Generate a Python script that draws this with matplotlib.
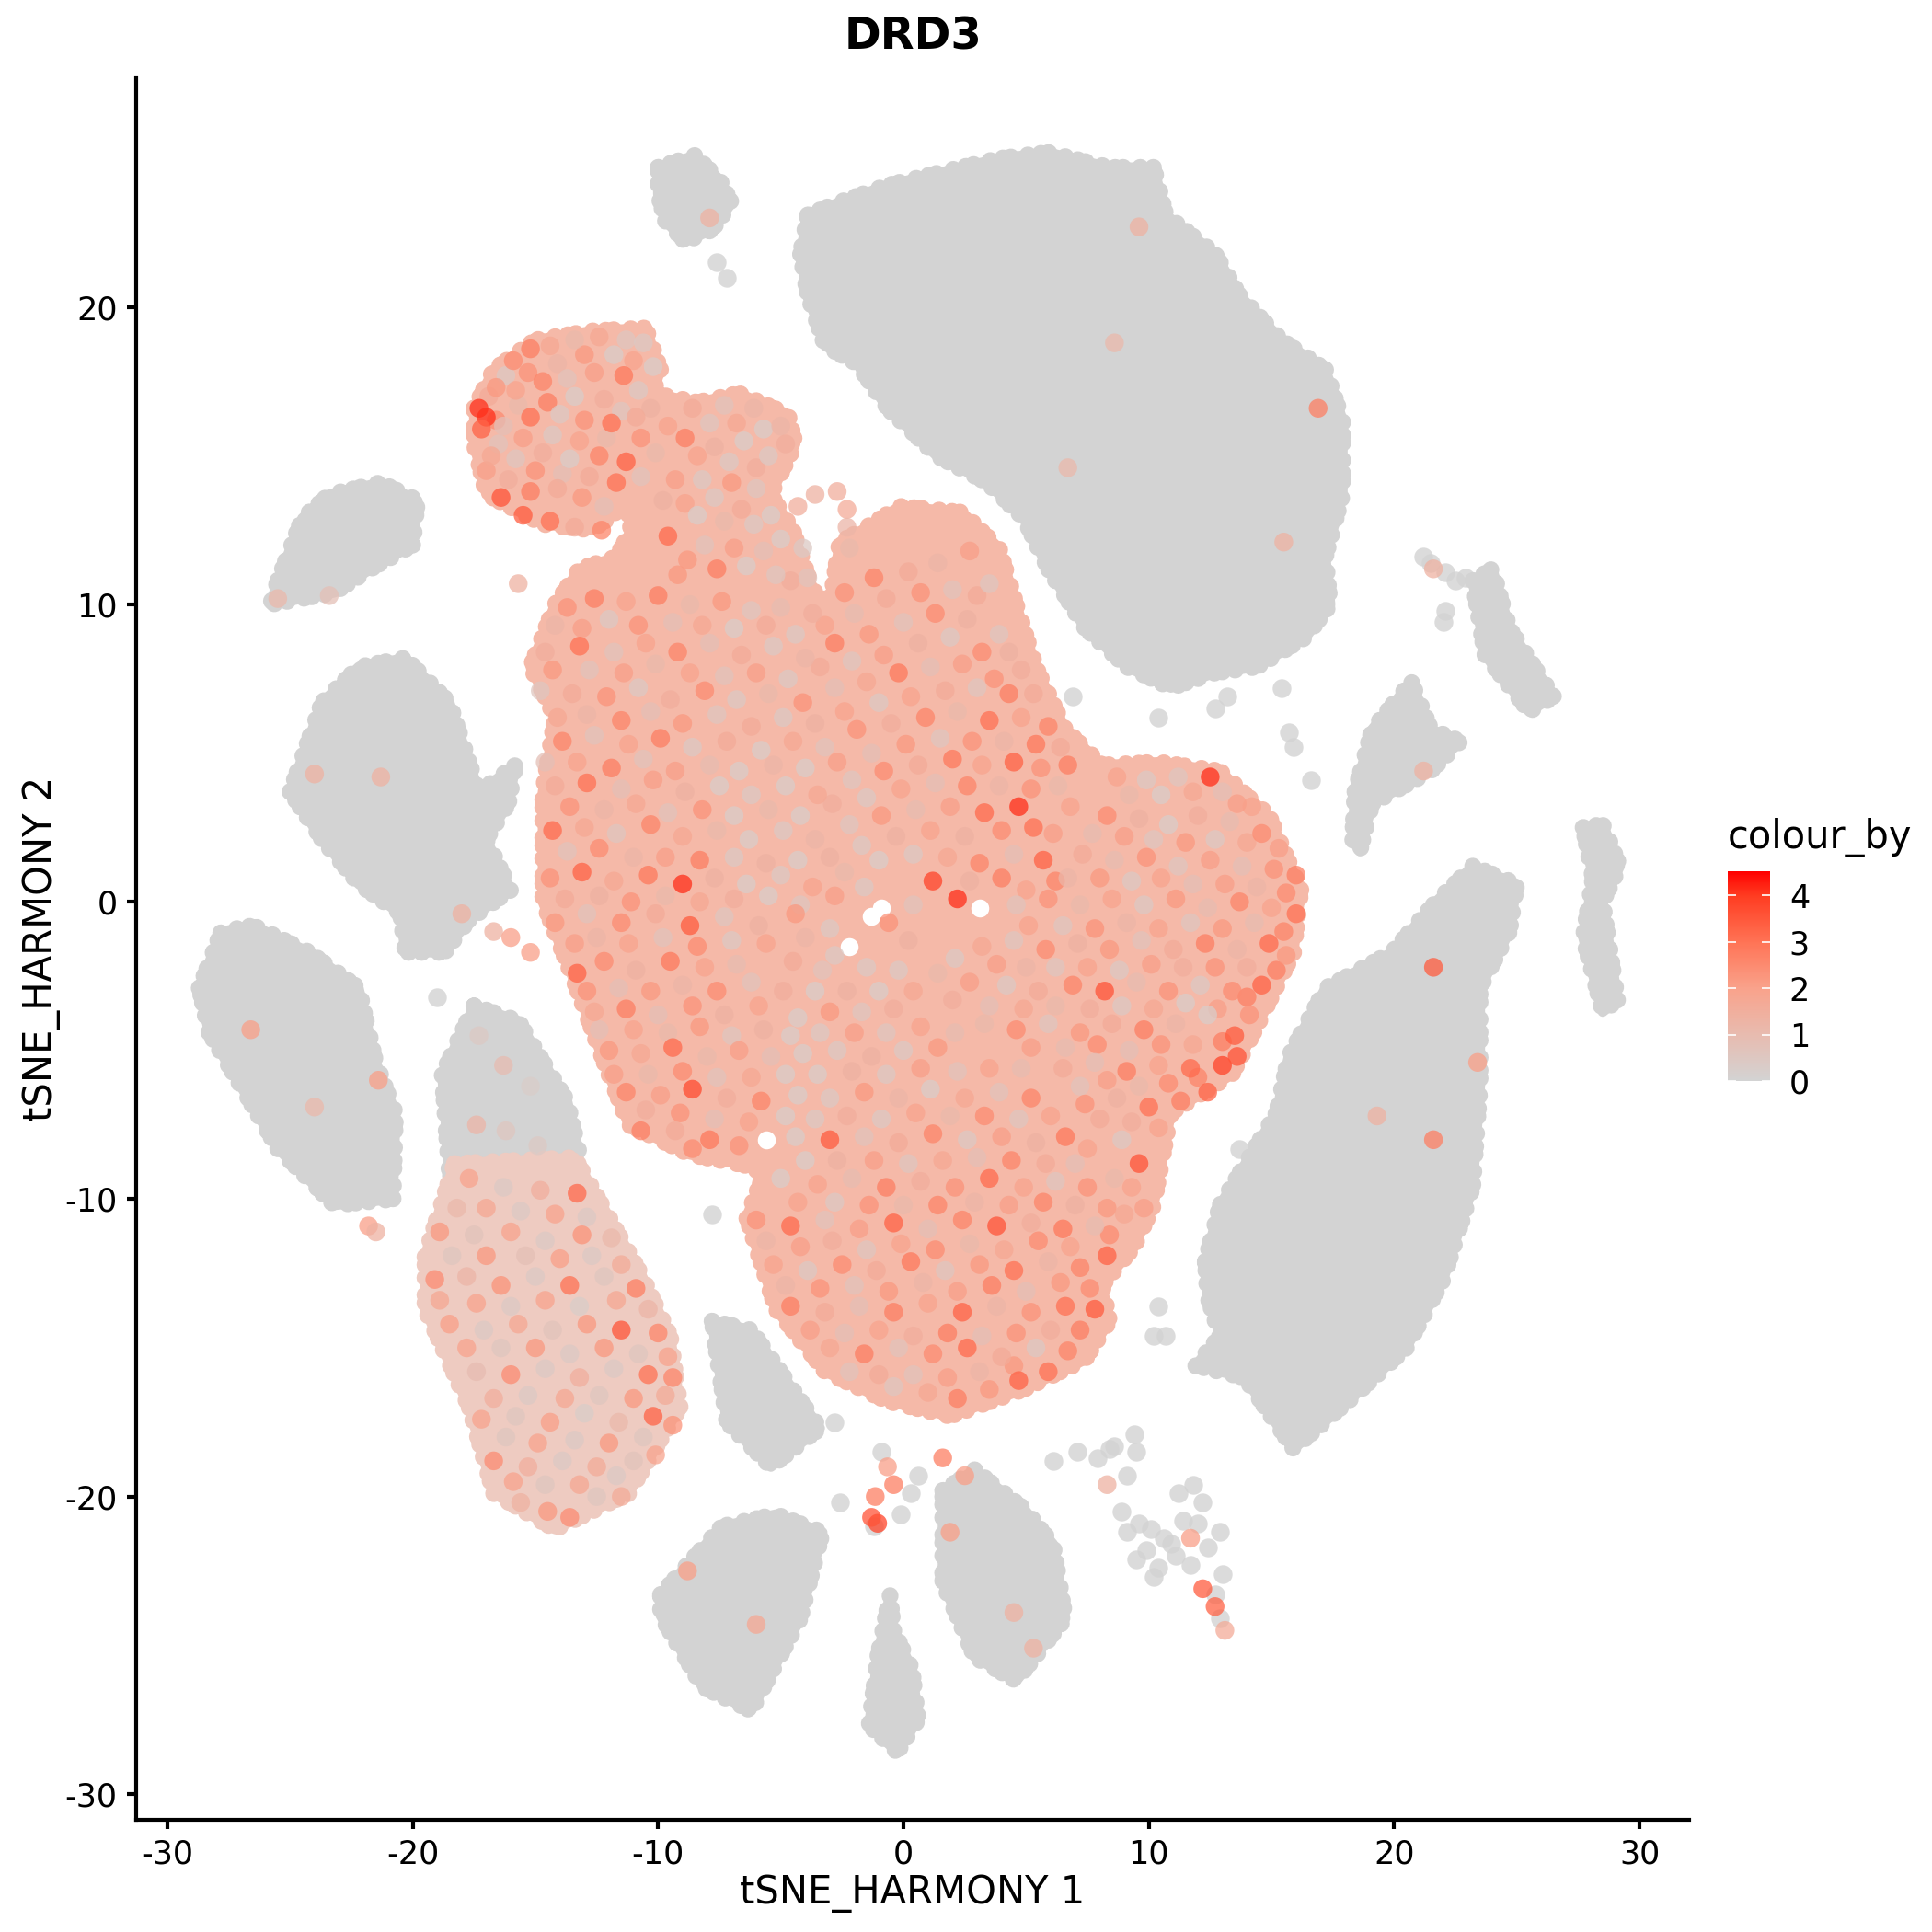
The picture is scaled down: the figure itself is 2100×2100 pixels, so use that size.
import matplotlib
matplotlib.use("Agg")
import matplotlib.pyplot as plt
from matplotlib.cm import ScalarMappable
from matplotlib.colors import LinearSegmentedColormap, Normalize

plt.rcParams["axes.unicode_minus"] = False

# cluster outlines, in tSNE units
grey_outlines = [
    [(-3.9,23.1),(-2.7,23.5),(-0.65,24.1),(1.35,24.5),(3.9,25),(5.9,25.2),(8.4,24.7),(10.2,24.7),(10.7,23.1),(12.7,21.8),(13.7,20.4),(15.4,18.9),(17.2,17.9),(17.9,16.2),(17.9,13.7),(17.2,11.6),(17.4,10),(16.4,8.9),(14.4,7.9),(12.7,7.7),(10.9,7.2),(9.1,7.9),(7.4,9.2),(5.9,11.2),(4.9,12.9),(3.4,14.1),(1.35,15),(-0.65,16.6),(-1.9,18.1),(-3.2,18.7),(-3.9,20.4),(-4.2,21.8)],
    [(-10,24.7),(-8.5,25.1),(-7.5,24.3),(-7,23.5),(-7.8,22.6),(-8.9,22.2),(-9.7,22.9),(-10,23.8)],
    [(-25.5,10.8),(-24.5,12.9),(-23.4,13.7),(-21.3,14.1),(-19.8,13.5),(-20,12),(-21.7,11.2),(-23.2,10.4),(-25.8,10)],
    [(-25,3.7),(-23.7,6.7),(-22.2,7.9),(-20.3,8.2),(-18.5,6.7),(-17.3,3.7),(-15.8,4.6),(-16.1,3.3),(-17,2.1),(-16,0.4),(-17.7,-0.6),(-18.7,-1.7),(-20.3,-1.7),(-20.5,-0.4),(-22.2,0.6),(-23.7,2.1)],
    [(-28.7,-2.9),(-27.8,-1),(-26.5,-0.8),(-24.2,-1.7),(-22.2,-2.9),(-21.5,-5.4),(-20.7,-7.1),(-20.8,-10),(-23.2,-10.2),(-25.5,-8.3),(-27,-6.2),(-28.3,-4.4)],
    [(12.3,-12.1),(12.9,-10.2),(15.2,-7.1),(15.7,-5.2),(17.2,-2.9),(19.9,-1.7),(21.7,0),(23.2,1.2),(25,0.6),(24.7,-1),(23.5,-2.9),(23.5,-6.2),(23.2,-9.6),(22,-12.7),(20.5,-15),(18.4,-16.6),(15.9,-18.4),(13.9,-16),(11.9,-15.6),(12.9,-14.6),(12.4,-13.3)],
    [(18.4,3.7),(19.1,5.8),(20.7,7.4),(21.5,5.8),(22.7,5.4),(21.5,4.4),(19.1,3.3),(18.6,1.7),(18.3,2.1)],
    [(23.2,10.8),(24,11.2),(24.7,9.2),(26.5,6.9),(25.5,6.4),(23.7,8.3)],
    [(27.7,2.5),(28.5,2.6),(29.2,1.2),(28.5,0),(29.1,-3.3),(28.5,-3.7),(27.7,-1.2),(28.1,0.8)],
    [(-7.8,-14.1),(-6.2,-14.4),(-3.4,-17.7),(-5.4,-19),(-7.2,-17.5)],
    [(-9.9,-23.3),(-7.4,-21),(-5.2,-20.6),(-3.3,-21.2),(-4.2,-24.1),(-6.2,-27.2),(-8.2,-26.4),(-9.9,-24)],
    [(-0.4,-24.5),(0.35,-25.8),(0.6,-27.5),(-0.25,-28.6),(-1.4,-27.7),(-1.05,-25.4),(-0.55,-23.3)],
    [(1.6,-19.8),(2.9,-19.1),(4.9,-20.4),(6.1,-21.6),(6.6,-24.1),(4.6,-26.2),(2.9,-25.4),(1.6,-22.9)],
    [(-17.5,-3.5),(-15.7,-4),(-13.7,-6.7),(-13.2,-8.5),(-14,-10),(-18.5,-9.2),(-18.8,-5.8)],
]
main_outline = [(-17.5,16.6),(-16.7,17.9),(-15,18.9),(-12.7,19.2),(-10.5,19.3),(-9.9,17.9),(-10.2,17.1),(-8.4,16.8),(-6.7,17.1),(-4.7,16.4),(-4.4,15.4),(-5.4,13.7),(-4.5,12.5),(-3.9,11),(-3.4,10),(-2.9,10.5),(-2.6,12.1),(-1.7,12.5),(-0.15,13.3),(2.4,13.1),(3.9,11.9),(4.6,10),(5.4,7.9),(6.6,5.8),(8.1,4.6),(10.4,4.7),(12.9,4.4),(14.9,2.9),(16.2,0.4),(15.9,-1.7),(14.4,-4.2),(13.4,-5.8),(10.9,-7.1),(10.2,-10.2),(9.4,-11.6),(8.1,-12.9),(8.4,-14.1),(7.4,-15.4),(4.9,-16.4),(1.9,-17.3),(-0.65,-16.8),(-3.2,-15.8),(-5.2,-13.7),(-6.4,-10.6),(-5.7,-9.2),(-6.2,-8.9),(-8.7,-8.5),(-11.2,-7.5),(-12.2,-5.4),(-13.5,-2.5),(-14.7,0),(-14.7,3.7),(-14.2,6.2),(-15.2,7.9),(-14.2,10),(-13.2,11.2),(-11.7,11.6),(-11.1,12.5),(-11.3,13.4),(-12,12.9),(-12.7,12.5),(-14.7,12.7),(-17,13.7),(-17.5,15.4)]
low_left_outline = [(-18.3,-8.8),(-13.4,-8.6),(-12,-10.6),(-10.7,-12.5),(-9.5,-14.6),(-9.1,-17),(-11.2,-19.9),(-14.2,-21.1),(-16.7,-19.9),(-17.7,-17),(-19.5,-13.7),(-19.5,-11.9)]

# small holes in the main blob
gap_x = [-0.9,3.1,-2.2,-1.3,-5.6]
gap_y = [-0.2,-0.2,-1.5,-0.5,-8.0]

# loose grey cells around the clusters
stray_x = [6.1,7.1,7.9,8.6,9.4,9.5,9.1,8.9,9.1,9.9,10.2,10.9,11.4,11.8,12.2,12.9,11.7,12.7,12.9,-19,-7.8,-2.8,-2.6,10.4,6.9,15.4,15.7,16.6,15.9,13.2,12.7,13.7,10.4,10.2,10.7,-7.6,-7.2,22.1,22,21.2,22.5,-0.9,0.6,-0.1,-1.2,0.3,8.4,9.6,10.6,11.1,12,12.4,13,9.5,10.4,10.1,11.2,21.5,22.1,22.9,23.5]
stray_y = [-18.8,-18.5,-18.7,-18.3,-17.9,-18.5,-19.3,-20.5,-21.2,-21.8,-22.7,-21.6,-20.8,-19.6,-20.2,-21.2,-22.3,-23.3,-24.1,-3.2,-10.5,-17.5,-20.2,6.2,6.9,7.2,5.7,4.1,5.2,6.9,6.5,-8.3,-13.6,-14.6,-14.6,21.5,21,9.8,9.4,11.6,10.8,-18.5,-19.3,-20.6,-21,-19.9,-18.4,-20.9,-21.4,-22,-20.9,-21.7,-22.6,-22.1,-22.4,-21.1,-19.9,11.4,11.1,10.9,10.8]

# expressing cells as (x, y, value)
sparse_cells = [(16.9,16.6,2),(9.6,22.7,1),(8.6,18.8,0.8),(6.7,14.6,0.8),(15.5,12.1,1),(-26.6,-4.3,1.5),(-24,-6.9,0.8),(-21.4,-6,1.5),(-24,4.3,1),(-21.3,4.2,1),(-7.9,23,1),(-21.8,-10.9,1.5),(-21.5,-11.1,1),(21.6,-2.2,2.5),(21.6,-8,2),(19.3,-7.2,1),(23.4,-5.4,1.5),(21.6,11.2,1),(21.2,4.4,1),(-8.8,-22.5,1.5),(-6,-24.3,1.3),(4.5,-23.9,1),(5.3,-25.1,1),(1.9,-21.2,1.5),(1.6,-18.7,2),(2.5,-19.3,1.5),(-1.05,-20.9,2.8),(-1.3,-20.7,2.6),(-1.15,-20,2),(-0.4,-19.6,2),(-0.65,-19,1.5),(12.2,-23.1,2.5),(12.7,-23.7,2.4),(13.1,-24.5,1.2),(11.7,-21.4,1.5),(8.3,-19.6,1),(-18,-0.4,1),(-16.7,-1,1),(-16,-1.2,1.5),(-15.2,-1.7,1.5),(-15.7,10.7,1),(-25.5,10.2,0.8),(-23.4,10.3,0.6),(-4.3,13.3,1.1),(-3.6,13.7,1),(-2.7,13.8,1.1),(-2.3,13.2,1.2),(-2.3,12.6,0.9),(-2.2,11.9,0.8)]
lobe_cells = [(-17.3,16.6,3),(-17,16.3,3),(-17.2,15.9,2.4),(-16.6,17.3,1.6),(-15.9,18.2,1.8),(-15.2,18.6,2),(-14.4,18.7,1.3),(-13.4,18.9,0.8),(-12.4,19,1.3),(-11.3,18.9,0.4),(-10.6,18.8,0.3),(-10.2,18,0.2),(-15.8,17.2,1.4),(-14.7,17.5,1.9),(-13.7,17.6,0.5),(-12.6,17.8,1.5),(-11.4,17.7,2.1),(-10.8,17.2,0.3),(-16.3,16,0.6),(-15.2,16.3,2.2),(-14,16.4,0.3),(-13,16.2,1.7),(-11.9,16.1,2.2),(-10.9,16.3,1.2),(-9.6,16,1.4),(-16.8,15,1.3),(-15.8,14.9,0.4),(-14.7,15.1,1.1),(-13.6,14.9,0.2),(-12.4,15,1.9),(-11.3,14.8,2.4),(-10.1,15.1,0.8),(-16.4,13.6,2.6),(-15.2,13.8,2),(-14.1,13.9,1.2),(-13.1,13.6,1.6),(-12.2,13.3,0.6),(-15.5,13,2.5),(-14.4,12.8,2.2),(-13.4,12.6,1.2),(-12.3,12.5,1.9),(-8.6,16.6,1.2),(-7.3,16.7,0.5),(-6.1,16.6,0.9),(-5,16,0.9),(-4.8,15.4,1.1),(-8.9,15.6,2),(-7.7,15.3,1),(-6.5,15.5,0.2),(-5.5,15,0.3),(-8.2,14.2,0.3),(-7,14.1,1.6),(-6,13.9,0.4),(-9.3,14.2,1.5),(-8.4,13,0.2),(-7.3,12.8,0.8),(-6.1,12.7,0.3),(-5,12.2,0.2),(-4.1,11.9,0.3),(-9.6,12.3,2.3),(-8.8,11.5,1.6),(-7.6,11.2,2),(-6.4,11.3,0.2),(-5.2,11,0.4),(-3.9,10.9,0.5)]
lobe_extra = [(-16.9,17,1.2),(-16.2,17.7,0.3),(-15.3,17.8,1.7),(-14.1,18.1,0.9),(-13,18.4,1.6),(-11.8,18.4,0.2),(-11,18.2,1.4),(-16.6,16.2,1.8),(-15.7,16.7,0.8),(-14.5,16.8,2),(-13.4,17,0.2),(-12.2,16.9,1.1),(-11.5,16.5,0.4),(-10.3,16.6,1),(-16.5,15.4,0.5),(-15.5,15.6,1.5),(-14.3,15.7,0.3),(-13.2,15.5,1.4),(-12.1,15.6,0.8),(-10.7,15.6,1.7),(-17,14.5,1.5),(-16.1,14.2,1.1),(-15,14.5,1.7),(-13.9,14.4,0.6),(-12.8,14.3,1.2),(-11.7,14.1,2.2),(-10.7,14.3,0.5),(-9.8,13.5,1),(-7.9,16.1,0.4),(-6.8,16.1,1.3),(-5.7,15.9,0.2),(-8.4,15,1.4),(-7.1,14.8,0.3),(-6,14.6,1.1),(-8.9,13.4,1.4),(-7.7,13.6,0.3),(-6.6,13.2,1.2),(-5.4,13,0.2),(-9.2,11,1.6),(-8.1,12,0.5),(-6.9,11.9,1.5),(-5.7,11.8,0.6),(-4.6,10.8,1.1)]
upper_cells = [(-13.7,9.9,1.7),(-12.6,10.2,2),(-11.3,10.1,1.4),(-10,10.3,2),(-8.7,10,0.8),(-7.4,10.1,1.6),(-6.2,9.8,0.4),(-5,9.9,0.7),(-3.7,9.7,1.1),(-2.4,10.4,1.7),(-1.2,10.9,1.9),(0.2,11.1,1.2),(1.4,11.4,0.9),(2.7,11.8,1.5),(3.5,10.7,0.4),(-14.6,8.4,1.1),(-13.2,8.6,2.2),(-11.8,8.4,0.5),(-10.5,8.7,1.4),(-9.2,8.4,1.9),(-7.9,8.7,0.6),(-6.6,8.3,1.2),(-5.3,8.6,0.3),(-4,8.2,0.9),(-2.8,8.7,2),(-1.4,9,1.6),(0,9.4,0.5),(1.3,9.7,1.8),(2.6,9.5,1),(3.9,9,0.4),(-14.8,7.1,0.4),(-13.5,7,1.2),(-12.1,6.9,1.7),(-10.8,7.2,0.3),(-9.5,6.8,1.1),(-8.1,7.1,1.8),(-6.8,6.8,0.3),(-5.5,7,0.8),(-4.1,6.7,1.7),(-2.8,7.2,0.6),(-1.5,7.4,1.3),(-0.2,7.7,2.1),(1.1,7.9,0.6),(2.4,8,1.5),(3.7,7.5,1.7),(4.8,7.8,1.1),(-13.9,5.4,1.9),(-12.6,5.6,0.5),(-11.2,5.3,1.4),(-9.9,5.5,2),(-8.6,5.2,0.3),(-7.2,5.4,1.2),(-5.8,5.1,0.2),(-4.5,5.4,1.3),(-3.2,5.2,0.5),(-1.9,5.8,1.7),(-0.5,6,1.1),(0.9,6.2,1.9),(2.2,6.4,0.8),(3.5,6.1,2.2),(4.8,6.2,1.4),(5.9,5.9,1.9),(-14.2,3.9,1.2),(-12.9,4,2.2),(-11.5,3.8,0.6),(-10.2,4.1,1.5),(-8.9,3.7,1),(-7.5,3.9,0.2),(-6.2,3.6,0.3),(-4.8,3.9,0.2),(-3.5,3.6,1.3),(-2.1,4.1,0.4),(-0.8,4.4,1.8),(0.6,4.6,1.2),(2,4.8,2.1),(3.2,4.6,1.4),(4.5,4.7,2.4),(5.6,4.5,1.7),(6.7,4.6,2),(-14.3,2.4,2.3),(-13,2.5,1.3),(-11.7,2.3,0.4),(-10.3,2.6,1.9),(-9,2.2,1.3),(-7.6,2.4,0.8),(-6.3,2.1,0.2),(-4.9,2.4,0.3),(-3.6,2.1,0.9),(-2.2,2.6,0.4),(-0.9,2.9,1.6),(0.5,3.1,0.7),(1.9,3.2,1.5),(3.3,3,2.3),(4.7,3.2,3),(5.3,2.5,2.2),(6.8,3.2,1.4),(-14.4,0.8,1.7),(-13.1,1,2.4),(-11.8,0.7,1.3),(-10.4,0.9,2.1),(-9,0.6,3),(-7.7,0.8,1),(-6.4,0.6,0.2),(-5,0.9,0.3),(-3.7,0.5,1.4),(-2.4,1,0.8),(-1,1.4,0.2),(0.4,1.6,0.3),(1.8,1.5,1.3),(3.1,1.3,1.9),(4.5,1.6,0.6),(5.7,1.4,2.4),(-14.2,-0.7,1.6),(-12.9,-0.4,0.5),(-11.5,-0.7,1.8),(-10.1,-0.4,1.2),(-8.7,-0.8,2.5),(-7.3,-0.5,0.4),(-5.9,-0.8,1),(-4.4,-0.4,1.6),(-3,-0.9,0.3),(0.4,-0.1,0.5),(1.2,0.7,2.8),(2.2,0.1,3)]
upper_extra = [(-14.2,9.3,0.9),(-13.1,9.2,1.5),(-12,9.5,0.3),(-10.8,9.3,1.7),(-9.4,9.4,0.6),(-8.2,9.3,1.3),(-6.9,9.2,0.2),(-5.6,9.3,1.2),(-4.4,9,0.3),(-3.2,9.3,1.4),(-2,9.7,0.7),(-0.7,10.2,1.2),(0.7,10.4,1.7),(2,10.5,0.5),(3,10.3,1.2),(-14.3,7.8,1.6),(-12.8,7.8,0.5),(-11.4,7.7,1.5),(-10.1,8,0.8),(-8.7,7.7,1.4),(-7.3,7.6,0.5),(-6,7.7,1.5),(-4.7,7.5,0.3),(-3.4,7.9,1.2),(-2.1,8.1,0.4),(-0.8,8.3,1.5),(0.6,8.7,1),(1.9,8.9,0.3),(3.2,8.4,1.8),(4.3,8.4,1),(-14.1,6.2,1.3),(-12.9,6.3,0.9),(-11.5,6.1,1.9),(-10.3,6.4,0.6),(-9,6,1.6),(-7.6,6.3,0.4),(-6.2,5.9,1.2),(-4.9,6.2,0.3),(-3.6,6,1),(-2.4,6.4,1.4),(-1,6.7,0.3),(0.3,6.9,1.4),(1.7,7.1,1.2),(3,7.2,0.4),(4.3,7,2),(5.3,7,1.2),(-14.6,4.7,0.6),(-13.3,4.7,1.4),(-11.9,4.5,2),(-10.6,4.8,0.5),(-9.3,4.4,1.5),(-7.9,4.6,0.7),(-6.7,4.4,0.2),(-5.3,4.6,0.9),(-4,4.5,0.2),(-2.7,4.7,1.5),(-1.3,5,0.6),(0.1,5.3,1.6),(1.5,5.5,0.4),(2.8,5.4,1.7),(4.1,5.4,0.9),(5.4,5.3,2.1),(6.4,5.2,1.2),(-13.6,3.2,1.7),(-12.2,3.1,0.9),(-10.9,3.3,1.3),(-9.6,3,0.5),(-8.2,3.1,1.7),(-6.9,2.9,0.2),(-5.5,3.1,0.8),(-4.2,2.9,0.2),(-2.9,3.3,1.1),(-1.5,3.5,0.3),(-0.1,3.8,1.4),(1.3,4,0.6),(2.6,3.9,1.9),(3.9,3.9,0.9),(5.2,3.8,1.7),(6.3,3.9,0.8),(-13.7,1.7,0.5),(-12.4,1.8,1.8),(-11,1.5,0.9),(-9.7,1.5,1.5),(-8.3,1.4,2),(-6.9,1.5,0.3),(-5.6,1.3,1),(-4.3,1.4,0.2),(-3,1.5,1),(-1.7,1.9,0.3),(-0.3,2.2,1),(1.1,2.4,1.4),(2.5,2.2,1),(4,2.4,1.8),(6.1,2.3,1.5),(-13.8,0.1,1.2),(-12.4,0.2,1),(-11.1,0,1.7),(-9.7,0.2,0.8),(-8.3,0,1.3),(-6.9,0.1,1.1),(-5.5,0.2,0.2),(-4.2,-0.1,0.4),(-2.8,0.2,1.5),(-1.6,0.5,0.3),(2.7,0.7,1),(4,0.8,2),(5,0.4,1.4),(6.2,0.7,1.9)]
right_cells = [(8.7,4.2,1.4),(9.9,4.1,0.3),(11.2,4.2,0.4),(12.5,4.2,3),(13.6,3.3,1.5),(8.3,2.9,1.8),(9.6,2.8,1),(10.8,2.6,0.2),(12,2.9,1.1),(13.3,2.7,0.7),(14.6,2.3,1.8),(7.3,1.6,1.2),(8.6,1.4,0.7),(9.9,1.5,1.7),(11.2,1.2,0.4),(12.5,1.4,1.5),(13.8,1.2,0.6),(15.1,1.1,1.7),(16,0.9,2),(4.6,-0.1,0.5),(5.9,0.1,1.7),(7.2,-0.1,0.8),(8.5,0.1,1.4),(9.8,-0.1,0.3),(11.1,0.1,1.6),(12.4,-0.2,0.7),(13.7,0,1.9),(15,-0.2,1.4),(16,-0.4,2.2),(3.2,-1.5,1.3),(4.5,-1.3,0.4),(5.8,-1.6,1.8),(7.1,-1.4,1),(8.4,-1.6,1.6),(9.7,-1.3,0.5),(11,-1.6,1.2),(12.3,-1.4,2),(13.6,-1.6,0.9),(14.9,-1.4,2.3),(15.6,-1.8,1.6),(1.4,-2.4,0.8),(2.7,-2.7,1.5),(4.2,-2.8,0.3),(5.5,-3,1.2),(6.9,-2.8,1.9),(8.2,-3,2.6),(9.5,-2.7,0.7),(10.8,-3,1.7),(12.1,-2.8,0.3),(13.4,-3,1.8),(14.6,-2.8,2.4),(3.3,-4.1,0.8),(4.6,-4.3,1.8),(5.9,-4.1,0.4),(7.2,-4.4,1.6),(8.5,-4.1,1.2),(9.8,-4.3,2),(11.1,-4.1,0.9),(12.4,-3.8,0.2),(13.5,-4.5,2.5),(14.1,-3.8,1.7),(6.5,-5.6,1.2),(7.8,-5.4,0.6),(9.1,-5.7,2),(10.4,-5.5,1.4),(11.7,-5.6,2.3),(13,-5.5,2.8),(13.6,-5.2,2.6),(7.4,-6.8,1.7),(8.7,-6.6,1),(10,-6.9,2.2),(11.3,-6.7,2),(12.4,-6.4,2.4),(8.9,-8,0.3),(9.6,-8.8,2.6),(8.6,-9.3,0.8),(10.4,-7.6,1.4)]
right_extra = [(9.2,3.6,0.8),(10.5,3.6,0.2),(11.8,3.7,1.3),(13,3.7,0.6),(14.2,3.2,1.4),(7.7,2.3,0.7),(9,2.2,1.5),(10.2,2.1,0.4),(11.5,2,1.6),(12.7,2.1,0.3),(14,2,1.3),(15.3,1.8,1.5),(6.7,0.8,0.9),(8,0.8,1.6),(9.3,0.7,0.3),(10.5,0.8,1.4),(11.8,0.6,0.6),(13.1,0.6,1.5),(14.4,0.5,0.9),(15.6,0.3,1.8),(5.1,-0.8,1.4),(6.5,-0.8,0.4),(7.8,-0.9,1.7),(9.1,-0.7,0.9),(10.4,-0.9,1.4),(11.7,-0.7,0.4),(13,-0.9,1.6),(14.3,-0.7,0.7),(15.5,-1,1.9),(2.1,-1.9,0.3),(3.8,-2.1,1.5),(5,-2.2,0.9),(6.2,-2.2,0.4),(7.5,-2.2,1.4),(8.8,-2.3,0.3),(10.1,-2.1,1.5),(11.4,-2.2,1.1),(12.7,-2.2,1.7),(14,-2.2,1.1),(15.2,-2.3,2),(2,-3.3,1.1),(3.5,-3.5,0.6),(4.9,-3.6,1.3),(6.2,-3.5,0.8),(7.6,-3.6,1.1),(8.9,-3.5,0.3),(10.2,-3.6,1.3),(11.5,-3.4,0.2),(12.8,-3.6,1.5),(14,-3.2,2),(5.2,-4.9,1.5),(6.6,-4.9,0.7),(7.9,-4.8,1.8),(9.2,-5,0.6),(10.5,-4.8,1.7),(11.8,-4.8,1.3),(13,-4.7,2),(7.2,-6.2,0.5),(8.3,-6,1.5),(9.6,-6.2,0.8),(10.8,-6.1,1.8),(12,-5.9,1.9),(8,-7.3,1.2),(9.3,-7.4,1.1),(7.5,-8.3,1.4),(9.3,-9.6,1.4),(9.8,-10.3,1.5)]
lower_cells = [(-0.6,-0.7,1.7),(0.2,-1.3,1),(-1.5,-2.2,0.3),(-0.2,-2.3,0.3),(-4.5,-2,1.2),(-3.3,-2.3,0.5),(-6.8,-2.1,0.7),(-8.1,-2.2,1.4),(-9.5,-2,2.1),(-10.9,-2.3,1),(-12.2,-2,1.8),(-13.3,-2.4,2.4),(-12.6,-3.7,1.3),(-11.3,-3.6,2),(-10,-3.8,0.6),(-8.6,-3.5,1.7),(-7.3,-3.8,1),(-5.9,-3.5,1.4),(-4.3,-3.9,0.2),(-3,-3.7,1.6),(-1.7,-3.7,0.4),(-0.4,-3.6,1.1),(-12,-5,1.6),(-10.7,-5.1,1.3),(-9.4,-4.9,2.3),(-8,-5.2,0.8),(-6.7,-5,1.5),(-5.4,-5.2,0.6),(-4.1,-5.1,0.2),(-2.7,-5,0.3),(-1.3,-5.2,1),(0,-5,0.3),(1.4,-4.9,1.6),(2.2,-5.7,0.5),(-11.3,-6.4,1.9),(-9.9,-6.5,1.5),(-8.6,-6.3,2.7),(-7.2,-6.6,1.1),(-5.8,-6.7,1.9),(-4.3,-6.5,0.2),(-3,-6.6,0.3),(-1.6,-6.4,1.6),(-0.2,-6.6,0.9),(1.1,-6.3,0.2),(2.5,-6.6,1.3),(3.9,-6.4,0.5),(5.2,-6.6,1.9),(-10.7,-7.7,2),(-9.3,-7.7,1.2),(-7.9,-8,2.1),(-6.7,-8.2,1.7),(-4.4,-7.9,0.2),(-3,-8,2.5),(-1.6,-7.9,0.5),(-0.2,-8.1,1.2),(1.2,-7.8,1.9),(2.6,-8,0.3),(4,-7.9,1.5),(5.4,-8.1,1),(6.6,-7.9,2.1),(-5,-9.3,0.2),(-3.5,-9.5,1.4),(-2.1,-9.3,0.7),(-0.7,-9.6,2),(0.7,-9.4,1.1),(2.1,-9.6,1.7),(3.5,-9.3,2.3),(4.9,-9.6,1.4),(6.2,-9.4,0.4),(7.5,-9.6,1.7),(-6,-10.7,1.7),(-4.6,-10.9,2.3),(-3.2,-10.7,0.5),(-1.8,-11,1.5),(-0.4,-10.8,2.4),(1,-11,0.6),(2.4,-10.7,1.9),(3.8,-10.9,2.6),(5.2,-10.8,1.1),(6.5,-11,2.1),(7.8,-10.9,0.7),(9,-10.5,1.3),(-5.3,-12.2,1.4),(-3.9,-12.4,0.3),(-2.5,-12.2,1.8),(-1.1,-12.4,1.2),(0.3,-12.1,2.1),(1.7,-12.4,0.4),(3.1,-12.2,1.6),(4.5,-12.4,2.2),(5.9,-12.1,0.9),(7.2,-12.3,1.9),(8.3,-11.9,2.4),(-4.6,-13.6,2),(-3.2,-13.8,1.2),(-1.8,-13.6,0.6),(-0.4,-13.8,2),(1,-13.5,1.4),(2.4,-13.8,2.4),(3.8,-13.6,0.9),(5.2,-13.8,1.7),(6.6,-13.6,2.2),(7.8,-13.7,2.5),(-3,-15,1.3),(-1.6,-15.2,2),(-0.2,-15,0.5),(1.2,-15.2,1.8),(2.6,-15,2.3),(4,-15.3,1.2),(5.4,-15,0.3),(6.7,-15.1,1.9),(-0.4,-16.3,0.4),(1,-16.5,1.3),(2.2,-16.7,2),(3.5,-16.4,1.6),(4.7,-16.1,2.4)]
lower_extra = [(-13.4,-1.4,1.5),(-12.5,-1.2,0.9),(-11.2,-1.4,1.4),(-9.8,-1.2,0.5),(-8.4,-1.5,1.8),(-7,-1.3,0.3),(-5.6,-1.4,1.4),(-4,-1.2,0.9),(-2.8,-1.8,0.3),(-12.9,-3,1.7),(-11.6,-2.9,0.6),(-10.3,-3,1.6),(-9,-2.8,0.9),(-7.6,-3,1.8),(-6.2,-2.7,0.5),(-4.9,-3,1.1),(-3.6,-3,0.2),(-2.3,-3,1),(-1,-3,0.2),(0.4,-3,1.3),(-12.4,-4.3,0.6),(-11,-4.3,1.4),(-9.6,-4.4,0.8),(-8.3,-4.2,1.6),(-7,-4.5,0.4),(-5.7,-4.3,1),(-4.6,-4.5,0.2),(-3.4,-4.4,0.3),(-2,-4.4,1.5),(-0.7,-4.4,0.4),(0.7,-4.2,1.4),(2.1,-4.4,0.7),(-11.8,-5.8,1.5),(-10.4,-5.8,0.8),(-9,-5.7,1.8),(-7.6,-5.9,0.5),(-6.2,-5.9,1.3),(-4.8,-5.8,0.2),(-3.5,-5.8,0.2),(-2.1,-5.7,1),(-0.7,-5.8,0.3),(0.7,-5.6,1.5),(3.5,-5.6,1.4),(4.8,-5.6,0.7),(-10.5,-7,1.1),(-9.1,-7.1,1.7),(-7.7,-7.3,0.6),(-6.3,-7.4,1.4),(-4.8,-7.2,0.2),(-3.6,-7.3,0.3),(-2.3,-7.2,1.1),(-0.9,-7.3,0.3),(0.5,-7.1,1.4),(1.9,-7.2,0.8),(3.3,-7.2,1.8),(4.7,-7.3,0.4),(6,-7.2,1.4),(-8.6,-8.3,1.8),(-4,-8.7,0.2),(-2.7,-8.7,1),(-1.2,-8.7,1.5),(0.2,-8.8,0.4),(1.6,-8.7,1.3),(3,-8.6,0.6),(4.4,-8.7,1.9),(5.8,-8.8,1.2),(7,-8.8,0.6),(-4.3,-10.1,1.4),(-2.8,-10.1,0.3),(-1.4,-10.2,1.7),(0,-10.2,0.8),(1.4,-10.2,1.9),(2.9,-10.1,0.9),(4.3,-10.2,1.5),(5.7,-10.1,1.9),(7,-10.2,1),(8.3,-10.3,1.6),(-5.6,-11.4,0.9),(-4.2,-11.6,1.5),(-2.9,-11.4,1.1),(-1.5,-11.7,0.4),(-0.1,-11.5,1.4),(1.3,-11.7,1.8),(2.7,-11.5,0.8),(4.1,-11.7,1.3),(5.5,-11.4,1.8),(6.8,-11.6,1.4),(8.4,-11.2,1.8),(-4.8,-12.9,0.9),(-3.4,-13,1.7),(-2,-12.9,0.5),(-0.6,-13.1,1.6),(0.8,-12.8,0.9),(2.2,-13.1,1.5),(3.6,-12.9,2),(5,-13.1,0.6),(6.4,-12.8,1.6),(7.6,-13,1.8),(-3.8,-14.4,1.5),(-2.4,-14.5,0.6),(-1,-14.4,1.4),(0.4,-14.6,1.1),(1.8,-14.5,2),(3.2,-14.6,0.6),(4.6,-14.5,1.7),(6,-14.4,1.1),(7.2,-14.4,2),(-2.2,-15.8,0.5),(-1,-15.9,1.2),(0.4,-15.9,0.5),(1.8,-16,1.5),(3.1,-15.8,0.9),(4.5,-15.6,1.6),(5.9,-15.8,2.2)]
low_left_cells = [(-17.3,-4.5,0.3),(-16.3,-5.5,0.7),(-15.2,-6.2,0.2),(-17.4,-7.5,0.9),(-16.2,-7.7,0.4),(-14.9,-8.2,0.3),(-17.7,-9.3,1.4),(-16.3,-9.6,0.3),(-14.8,-9.7,1.1),(-13.3,-9.8,2.3),(-18.9,-11.1,1.6),(-17.5,-11.2,0.5),(-16,-11.1,1.4),(-14.6,-11.4,0.3),(-13.1,-11.2,1.7),(-11.9,-11.3,0.8),(-19.1,-12.7,1.8),(-17.8,-12.6,0.9),(-16.4,-12.9,1.7),(-15,-12.6,0.3),(-13.6,-12.9,2.2),(-12.2,-12.6,0.4),(-10.9,-13,2),(-18.5,-14.2,1.5),(-17.1,-14.4,0.3),(-15.7,-14.2,1.3),(-14.3,-14.4,0.5),(-12.9,-14.2,1.6),(-11.5,-14.4,2.6),(-10,-14.5,1.9),(-17.4,-15.8,0.7),(-16,-15.9,1.8),(-14.6,-15.7,0.3),(-13.2,-16,1.1),(-11.8,-15.7,0.3),(-10.4,-15.9,2.2),(-9.4,-16,1.9),(-17.2,-17.4,1.4),(-15.8,-17.3,0.4),(-14.4,-17.5,1.5),(-13,-17.2,0.2),(-11.6,-17.5,0.8),(-10.2,-17.3,2.4),(-9.4,-17.6,1.7),(-16.7,-18.8,1.8),(-15.3,-19,1.1),(-13.9,-18.8,0.3),(-12.5,-19,1.2),(-11,-18.8,0.5),(-10.1,-18.6,1.4),(-15.6,-20.2,1),(-14.5,-20.5,1.6),(-13.6,-20.7,1.8),(-12.5,-20,0.4),(-11.5,-20,1.2)]
low_left_extra = [(-18.2,-10.3,0.8),(-17,-10.3,1.3),(-15.6,-10.4,0.3),(-14.2,-10.5,1.4),(-12.9,-10.6,0.3),(-18.4,-11.9,0.4),(-17,-11.9,1.6),(-15.4,-11.9,0.6),(-14,-12,1.5),(-12.7,-11.9,0.3),(-11.5,-12.2,1.2),(-18.9,-13.4,1.3),(-17.4,-13.5,1.4),(-16,-13.6,0.3),(-14.6,-13.4,1.4),(-13.2,-13.6,0.2),(-11.7,-13.4,1.3),(-10.4,-13.7,0.9),(-17.8,-15,1.4),(-16.4,-15,0.4),(-15,-15,1.6),(-13.6,-15.2,0.3),(-12.2,-15,1.6),(-10.8,-15.2,0.4),(-9.6,-15.3,1.4),(-16.7,-16.7,1.1),(-15.3,-16.6,0.3),(-13.8,-16.7,1.3),(-12.4,-16.6,0.4),(-11,-16.7,1.6),(-9.7,-16.6,1.2),(-16.2,-18,0.4),(-14.9,-18.2,1.4),(-13.4,-18.1,0.3),(-12,-18.2,1.6),(-10.6,-18,0.4),(-15.9,-19.5,1.4),(-14.6,-19.6,0.4),(-13.2,-19.6,1.3),(-11.7,-19.3,0.3)]

legend_ticks = [0, 1, 2, 3, 4]
legend_max = 4.52

cmap = LinearSegmentedColormap.from_list(
    "grey_red", [(0, "lightgrey"), (1/legend_max, "#e8bbaf"), (2/legend_max, "#f9a28b"),
                 (3/legend_max, "#ff7355"), (4/legend_max, "#ff3c21"), (1, "red")])
norm = Normalize(0, legend_max)
# the cell values above came out a bit low, so the cells use a shorter scale than the legend
cell_norm = Normalize(0, 3.3)

fig = plt.figure(figsize=(7, 7), dpi=300)
W = H = 2100.0
ax = fig.add_axes([148/W, 1-1978/H, (1836-148)/W, (1978-85)/H])
ax.set_xlim(-31.27, 32.02)
ax.set_ylim(-30.87, 27.7)

# dotted round caps give the outlines their bumpy edge of overlapping points
bump = (0, (0.02, 0.75, 0.02, 0.45, 0.02, 1.0))

def draw_outline(outline, colour, zorder):
    xs, ys = zip(*outline)
    ax.fill(xs, ys, fc=colour, ec=colour, lw=2.6, joinstyle="round", zorder=zorder)
    ax.plot(xs + xs[:1], ys + ys[:1], color=colour, lw=4.4, ls=bump,
            dash_capstyle="round", zorder=zorder)

for outline in grey_outlines:
    draw_outline(outline, "lightgrey", 1)
ax.scatter(stray_x, stray_y, s=24, c="lightgrey", lw=0, alpha=0.8, zorder=1)

draw_outline(main_outline, "#f5b9a8", 2)
draw_outline(low_left_outline, "#eecbc1", 2)
ax.scatter(gap_x, gap_y, s=22, c="white", lw=0, zorder=2.5)

for cells in [sparse_cells, upper_extra, lobe_extra, right_extra, lower_extra, low_left_extra,
              lobe_cells, upper_cells, right_cells, lower_cells, low_left_cells]:
    xs, ys, vals = zip(*cells)
    ax.scatter(xs, ys, s=24, c=vals, cmap=cmap, norm=cell_norm, lw=0, alpha=0.75, zorder=3)

ax.set_xticks(range(-30, 31, 10))
ax.set_yticks(range(-30, 21, 10))
ax.tick_params(labelsize=8.4, length=2.4, width=1, pad=2.5)
for side in ["top", "right"]:
    ax.spines[side].set_visible(False)
for side in ["left", "bottom"]:
    ax.spines[side].set_linewidth(1)
ax.set_xlabel("tSNE_HARMONY 1", fontsize=10, labelpad=1)
ax.set_ylabel("tSNE_HARMONY 2", fontsize=10, labelpad=1)
fig.text(993/W, 1-40/H, "DRD3", fontsize=11.5, fontweight="bold", ha="center", va="center")

cax = fig.add_axes([1878/W, 1-1175/H, 46/W, 228/H])
cb = fig.colorbar(ScalarMappable(norm=norm, cmap=cmap), cax=cax)
cb.outline.set_visible(False)
cb.set_ticks(legend_ticks)
cb.ax.tick_params(length=0, labelsize=8.4, pad=5)
cax.hlines(legend_ticks, 0, 0.2, color="white", lw=0.4, transform=cax.get_yaxis_transform())
cax.hlines(legend_ticks, 0.8, 1, color="white", lw=0.4, transform=cax.get_yaxis_transform())
fig.text(1878/W, 1-922/H, "colour_by", fontsize=10, ha="left", va="baseline")

fig.savefig("out.png", dpi=300)
